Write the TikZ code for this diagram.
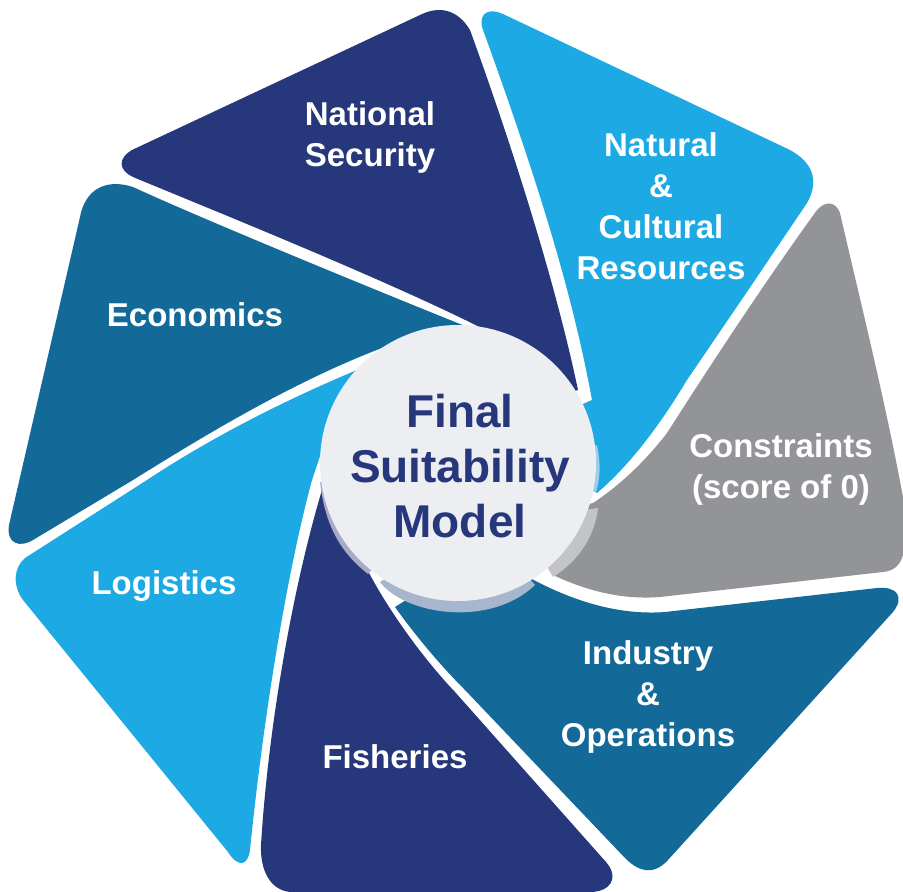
\documentclass[tikz,border=0pt]{standalone}
\usepackage{fontspec}
\setmainfont{Liberation Sans}
\definecolor{navy}{HTML}{27377B}
\definecolor{sky}{HTML}{1DA9E3}
\definecolor{teal}{HTML}{136A98}
\definecolor{slate}{HTML}{929497}
\definecolor{hub}{HTML}{ECEEF2}
\definecolor{shadeA}{HTML}{A9ABC4}
\definecolor{shadeB}{HTML}{A6B6CC}
\definecolor{shadeC}{HTML}{C3C4C6}
\definecolor{shadeD}{HTML}{9CCFEA}
\tikzset{
  blade/.style={draw=none},
  label/.style={text=white,font=\bfseries\fontsize{33}{41}\selectfont,align=center,inner sep=0pt},
  hubtext/.style={text=navy,font=\bfseries\fontsize{46}{55}\selectfont,align=center,inner sep=0pt}
}
\begin{document}
\begin{tikzpicture}[x=1pt,y=-1pt]
\useasboundingbox (0,0) rectangle (903,892);
\clip (0,0) rectangle (903,892);
% National Security
\fill[blade,navy] (132,150) -- (420,15) .. controls (440,5) and (458,10) .. (470,30)
  .. controls (510,140) and (555,280) .. (578,390) -- (480,420) -- (495,335)
  .. controls (400,285) and (200,205) .. (133,177)
  .. controls (118,170) and (118,158) .. (132,150) -- cycle;
% Economics
\fill[blade,teal] (80,217) .. controls (85,190) and (105,178) .. (133,187)
  .. controls (200,218) and (380,292) .. (475,330) -- (430,400) -- (390,345)
  .. controls (300,378) and (210,432) .. (133,480) -- (33,540)
  .. controls (20,548) and (6,544) .. (9,525) -- cycle;
% Logistics
\fill[blade,sky] (25,558) -- (147,480) .. controls (215,435) and (290,398) .. (357,370)
  -- (400,450) -- (322,450) -- (312,480)
  .. controls (285,580) and (262,730) .. (250,850)
  .. controls (248,866) and (238,868) .. (228,852)
  -- (23,600) .. controls (12,585) and (14,567) .. (25,558) -- cycle;
% Fisheries
\fill[blade,navy] (322,490) -- (400,530) -- (366,567)
  .. controls (385,605) and (420,655) .. (455,692) -- (606,862)
  .. controls (620,878) and (610,892) .. (590,892) -- (290,892)
  .. controls (270,890) and (260,870) .. (261,845)
  .. controls (268,730) and (292,590) .. (322,490) -- cycle;
% Natural & Cultural Resources
\fill[blade,sky] (482,27) .. controls (479,12) and (490,8) .. (503,14)
  -- (790,150) .. controls (812,162) and (820,180) .. (807,203)
  -- (753,283) -- (687,380) .. controls (660,425) and (630,465) .. (597,493)
  -- (500,440) -- (592,400)
  .. controls (570,280) and (530,160) .. (482,27) -- cycle;
% Constraints
\fill[blade,slate] (817,210) .. controls (826,200) and (836,202) .. (840,213)
  .. controls (860,300) and (885,400) .. (903,497) -- (903,555)
  .. controls (900,566) and (893,571) .. (883,572) -- (660,597)
  .. controls (620,600) and (585,590) .. (553,575)
  -- (520,520) -- (593,503)
  .. controls (625,482) and (650,455) .. (667,433)
  .. controls (720,350) and (770,275) .. (817,210) -- cycle;
% Industry & Operations
\fill[blade,teal] (530,578) .. controls (580,605) and (625,615) .. (665,612)
  -- (877,588) .. controls (897,586) and (905,597) .. (893,612)
  -- (668,860) .. controls (654,875) and (640,873) .. (625,858)
  -- (465,690) .. controls (440,665) and (415,635) .. (395,607) -- (470,560) -- cycle;
% hub with its shadows
\fill[shadeB] (380,582) .. controls (405,615) and (490,628) .. (535,585) -- (480,520) -- cycle;
\fill[shadeA] (320,482) .. controls (325,525) and (340,552) .. (368,574) -- (420,520) -- cycle;
\fill[shadeC] (598,508) .. controls (595,535) and (580,560) .. (553,577) -- (520,520) -- cycle;
\fill[shadeD] (597,445) .. controls (601,465) and (600,480) .. (596,492) -- (540,470) -- cycle;
\node[circle,fill=hub,minimum size=276pt,inner sep=0pt] (hub) at (458,463) {};
\node[hubtext] (hubt) at (460,466) {Final\\Suitability\\Model};
\node[label] (n1) at (370,137) {National\\Security};
\node[label] (n2) at (661,206) {Natural\\\&\\Cultural\\Resources};
\node[label] (n3) at (781,469) {Constraints\\(score of 0)};
\node[label] (n4) at (648,697) {Industry\\\&\\Operations};
\node[label] (n5) at (395,757) {Fisheries};
\node[label] (n6) at (164,586) {Logistics};
\node[label] (n7) at (195,315) {Economics};
\end{tikzpicture}
\end{document}
